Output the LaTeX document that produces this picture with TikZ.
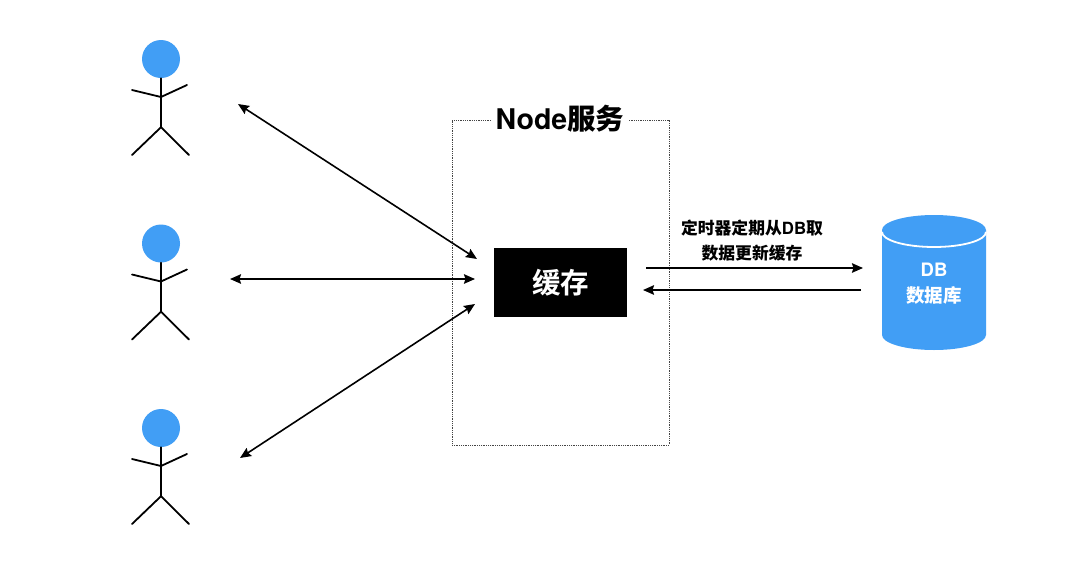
\documentclass[tikz,border=0pt]{standalone}
\usepackage{fontspec}
\setmainfont{TeX Gyre Heros}[BoldFont=* Bold]
\newfontfamily\cjk{Noto Sans CJK SC Bold}
\newcommand{\cn}[1]{{\cjk #1}}
\definecolor{skyblue}{HTML}{419EF5}
\definecolor{dotgray}{HTML}{444444}
\usetikzlibrary{arrows.meta}
\tikzset{
  x=1pt,y=-1pt,
  limb/.style={line width=1.8pt,black,line cap=round,line join=round},
  head/.style={circle,fill=skyblue,minimum size=38pt,inner sep=0pt},
  link/.style={line width=1.6pt,black,{Stealth[length=11pt,width=9.5pt,inset=1.5pt]}-{Stealth[length=11pt,width=9.5pt,inset=1.5pt]}},
  oneway/.style={line width=1.6pt,black,-{Stealth[length=11pt,width=9.5pt,inset=1.5pt]}},
  frame/.style={draw=dotgray,line width=1pt,dotted,dash pattern=on 0.9pt off 0.9pt},
  title/.style={fill=white,inner xsep=4pt,inner ysep=3pt,font=\bfseries\fontsize{28.5pt}{30pt}\selectfont},
  cache/.style={fill=black,text=white,minimum width=133pt,minimum height=69pt,inner sep=0pt,font=\fontsize{28.5pt}{32pt}\selectfont},
  note/.style={align=center,font=\bfseries\fontsize{16.8pt}{25pt}\selectfont},
  dblabel/.style={align=center,text=white,font=\bfseries\fontsize{18.5pt}{26pt}\selectfont},
}
\newcommand{\stickman}[2]{%
  \node[head] (#1) at (161,#2) {};
  \draw[limb] (#1.south) -- ++(0,49) coordinate (#1hip);
  \draw[limb] (132,#2+31) -- (161,#2+38) -- (187,#2+26);
  \draw[limb] (132,#2+96) -- (#1hip) -- (189,#2+96);
}
\begin{document}
\begin{tikzpicture}
\useasboundingbox (0,0) rectangle (1080,574);
\fill[white] (0,0) rectangle (1080,574);
\stickman{userA}{59}
\stickman{userB}{243.5}
\stickman{userC}{428}
\node[frame,draw,minimum width=217pt,minimum height=325pt,inner sep=0pt] (service) at (560.5,282.5) {};
\node[title] (servicetitle) at (560,118.5) {Node\cn{服务}};
\node[cache] (cachebox) at (560.5,282.5) {\cn{缓存}};
\node[note] (notetext) at (752,240.5) {\cn{定时器定期从}DB\cn{取}\\\cn{数据更新缓存}};
% database
\fill[skyblue] (882,230) -- (882,335) arc[start angle=180,end angle=0,x radius=52,y radius=15] -- (986,230) arc[start angle=0,end angle=-180,x radius=52,y radius=15] -- cycle;
\draw[white,line width=1.8pt] (882,232) arc[start angle=180,end angle=0,x radius=52,y radius=15];
\node[dblabel] (db) at (934,284) {DB\\\cn{数据库}};
% connector ends
\coordinate (a1) at (238,104);
\coordinate (a2) at (477,259);
\coordinate (b1) at (230,279);
\coordinate (b2) at (475,279);
\coordinate (c1) at (240,458);
\coordinate (c2) at (475,304);
\coordinate (d1) at (646,268);
\coordinate (d2) at (863,268);
\coordinate (e1) at (861,290);
\coordinate (e2) at (643,290);
\draw[link] (a1) -- (a2);
\draw[link] (b1) -- (b2);
\draw[link] (c1) -- (c2);
\draw[oneway] (d1) -- (d2);
\draw[oneway] (e1) -- (e2);
\end{tikzpicture}
\end{document}
